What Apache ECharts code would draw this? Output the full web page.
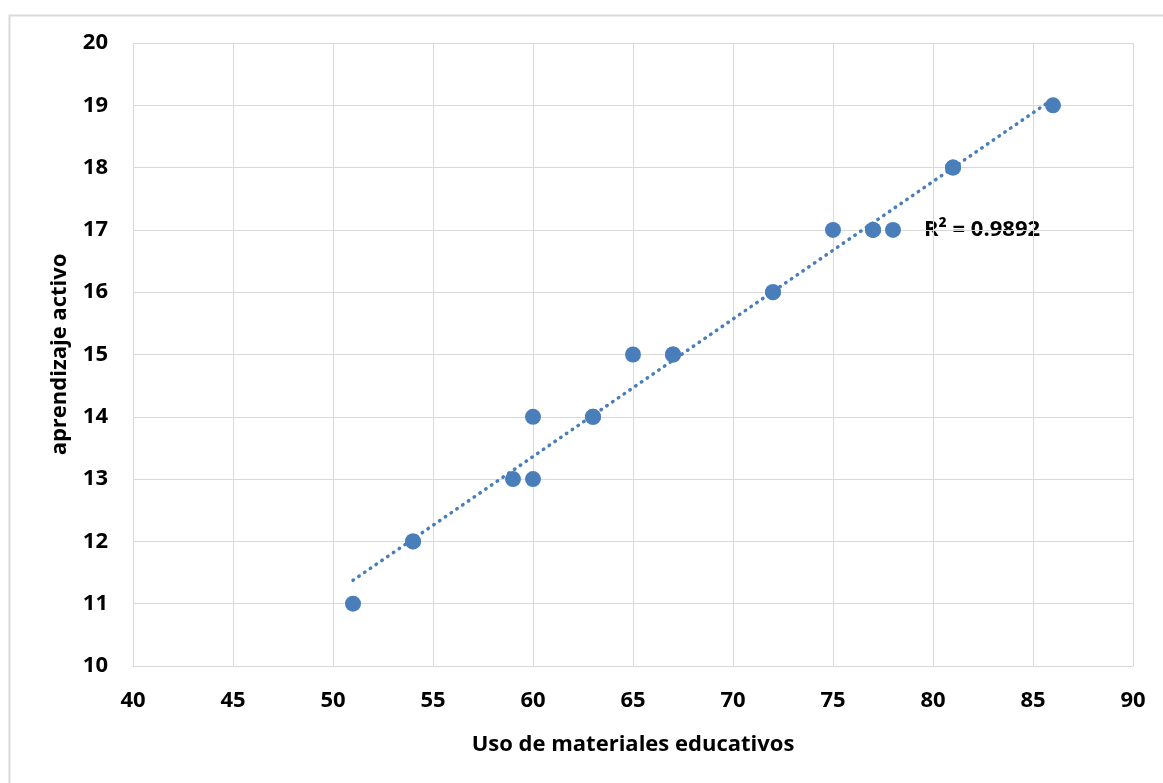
<!DOCTYPE html>
<html>
<head>
<meta charset="utf-8">
<script src="https://cdn.jsdelivr.net/npm/echarts@6/dist/echarts.min.js"></script>
<style>
html,body{margin:0;padding:0;background:#fff;}
#chart{width:1163px;height:783px;}
</style>
</head>
<body>
<div id="chart"></div>
<script>
// Data (duplicates sit on the trend line)
const usoMateriales = [51, 54, 54, 59, 60, 60, 63, 63, 65, 67, 67, 72, 72, 75, 77, 77, 78, 81, 81, 86];
const aprendizaje   = [11, 12, 12, 13, 13, 14, 14, 14, 15, 15, 15, 16, 16, 17, 17, 17, 17, 18, 18, 19];
const r2Label = 'R² = 0.9892';
const xTitle = 'Uso de materiales educativos';
const yTitle = 'aprendizaje activo';

const points = usoMateriales.map((x, i) => [x, aprendizaje[i]]);

// least-squares linear trend line
const n = points.length;
const mx = usoMateriales.reduce((a, b) => a + b, 0) / n;
const my = aprendizaje.reduce((a, b) => a + b, 0) / n;
let sxy = 0, sxx = 0;
points.forEach(([x, y]) => { sxy += (x - mx) * (y - my); sxx += (x - mx) * (x - mx); });
const slope = sxy / sxx;
const intercept = my - slope * mx;
const xMin = Math.min(...usoMateriales), xMax = Math.max(...usoMateriales);
const trend = [[xMin, intercept + slope * xMin], [xMax, intercept + slope * xMax]];

const blue = '#4a7ebb';
const font = '"Open Sans", "Noto Sans", sans-serif';
const fs = 22;

const chart = echarts.init(document.getElementById('chart'));
chart.setOption({
  backgroundColor: '#fff',
  animation: false,
  grid: { left: 133, right: 30, top: 43, bottom: 117, containLabel: false },
  xAxis: {
    type: 'value', min: 40, max: 90, interval: 5,
    name: xTitle, nameLocation: 'middle', nameGap: 68,
    nameTextStyle: { fontFamily: font, fontWeight: 'bold', fontSize: fs, color: '#000' },
    axisLine: { show: true, lineStyle: { color: '#d9d9d9', width: 1 } },
    axisTick: { show: false },
    axisLabel: { fontFamily: font, fontWeight: 'bold', fontSize: fs, color: '#000', margin: 24 },
    splitLine: { show: true, lineStyle: { color: '#d9d9d9', width: 1 } }
  },
  yAxis: {
    type: 'value', min: 10, max: 20, interval: 1,
    name: yTitle, nameLocation: 'middle', nameGap: 62, nameRotate: 90,
    nameTextStyle: { fontFamily: font, fontWeight: 'bold', fontSize: fs, color: '#000' },
    axisLine: { show: true, lineStyle: { color: '#d9d9d9', width: 1 } },
    axisTick: { show: false },
    axisLabel: { fontFamily: font, fontWeight: 'bold', fontSize: fs, color: '#000', margin: 25 },
    splitLine: { show: true, lineStyle: { color: '#d9d9d9', width: 1 } }
  },
  series: [
    {
      type: 'line', data: trend, symbol: 'none', silent: true, z: 1,
      lineStyle: { color: blue, width: 3.5, type: [0.5, 6.5], cap: 'round' }
    },
    {
      type: 'scatter', data: points, symbol: 'circle', symbolSize: 16, z: 2,
      itemStyle: { color: blue, opacity: 1 }
    }
  ],
  graphic: [
    { type: 'rect', left: 7, top: 13, silent: true,
      shape: { width: 1170, height: 790 },
      style: { fill: 'none', stroke: '#d9d9d9', lineWidth: 2 } },
    { type: 'text', left: 924, top: 219, silent: true,
      style: { text: r2Label, fontFamily: font, fontWeight: 'bold', fontSize: fs, fill: '#000' } }
  ]
});
</script>
</body>
</html>
